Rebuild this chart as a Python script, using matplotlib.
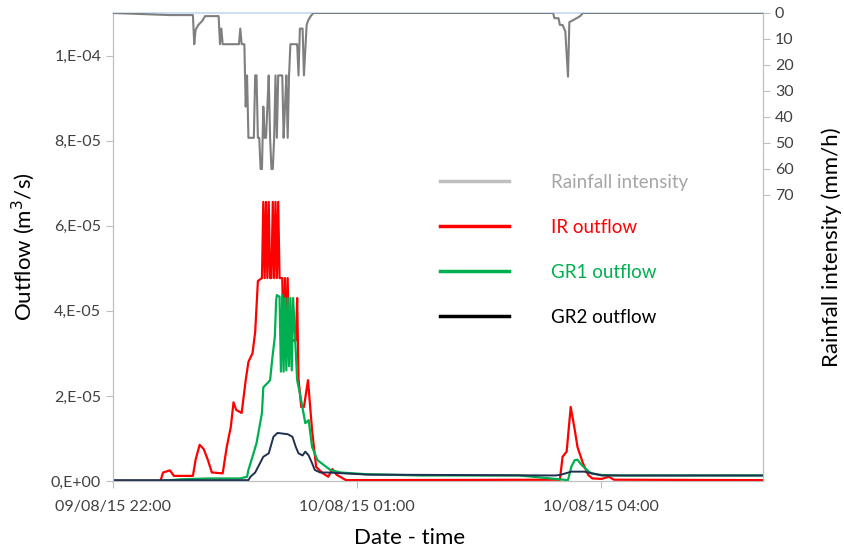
import matplotlib
matplotlib.use("Agg")
import matplotlib.pyplot as plt
from matplotlib.lines import Line2D

plt.rcParams['font.family'] = ['Lato', 'DejaVu Sans']

# ---------------- data (time in minutes after 09/08/15 22:00) ----------------
rain_t = [0, 42, 59, 60, 61, 63, 66, 68, 78, 79, 80, 81, 93, 94, 95, 97,
          98, 99, 100, 101, 102, 103, 104, 105, 106, 107, 108, 109, 110, 111, 112, 113,
          114, 115, 116, 117, 118, 119, 120, 121, 122, 123, 124, 125, 126, 127, 128, 129,
          130, 131, 135, 136, 137, 138, 140, 141, 143, 144, 146, 148,
          325, 326, 329, 330, 332, 334, 336, 337, 340, 345, 347, 480]
rain_v = [0, 0.8, 0.8, 12, 6.5, 4.6, 3, 1.2, 1.2, 12, 6, 12, 12, 6, 12, 12,
          36, 24, 48, 48, 48, 48, 48, 24, 24, 48, 48, 60, 60, 36, 48, 48,
          36, 24, 48, 60, 60, 48, 24, 48, 24, 24, 24, 24, 48, 36, 24, 48,
          24, 12, 12, 12, 24, 6, 6, 24, 4.6, 3, 1.2, 0,
          0, 2, 2, 4.6, 4.6, 7, 24.5, 3.5, 2.7, 1.2, 0, 0]

ir_t = [0, 35, 37, 42, 45, 59, 61, 64, 67, 70, 73, 81, 84, 87, 89, 91, 95, 98, 100, 103, 105,
        107, 110, 111, 112, 113, 114, 115, 116, 117, 118, 119, 120, 121, 122, 123, 125,
        126, 127, 128, 129, 130, 131, 133, 135, 136, 137, 139, 141, 144, 147, 150, 155,
        159, 162, 165, 172, 330, 332, 335, 338, 341, 343, 347, 351, 354, 361, 366, 370, 480]
ir_v = [0, 0, 0.2, 0.25, 0.12, 0.12, 0.5, 0.85, 0.75, 0.5, 0.2, 0.18, 0.8, 1.27, 1.85, 1.67, 1.6,
        2.37, 2.8, 3.0, 3.5,
        4.7, 4.77, 6.56, 4.77, 6.56, 4.77, 6.56, 4.77, 4.77, 6.56, 4.77, 6.56, 4.77, 6.56, 4.77, 4.77,
        3.0, 4.77, 3.0, 4.77, 3.0, 3.4, 3.3, 3.3, 4.3, 2.4, 1.74, 1.74, 2.37, 1.2, 0.33, 0.18,
        0.1, 0.28, 0.15, 0.02, 0.03, 0.57, 0.69, 1.74, 1.2, 0.8, 0.42, 0.14, 0.06, 0.05, 0.1, 0.03, 0.02]

gr1_t = [0, 35, 50, 70, 94, 99, 100, 103, 106, 110, 111, 114, 116, 117.5, 119.5, 120.5, 121, 123,
         124, 125, 126, 127, 128, 129, 130, 131, 132, 133, 136, 138.5, 142, 144.5, 147, 151,
         155.5, 160.5, 168, 187, 227, 300, 336, 337, 338.5, 341, 343, 346, 350, 353, 361, 376, 480]
gr1_v = [0, 0, 0.04, 0.06, 0.06, 0.1, 0.26, 0.57, 0.89, 1.6, 2.2, 2.3, 2.37, 2.84, 3.39, 4.25, 4.37, 4.33,
         2.57, 4.37, 2.57, 4.3, 2.6, 4.3, 2.7, 4.3, 2.6, 4.3, 2.37, 1.98, 1.36, 1.43, 0.8, 0.49,
         0.38, 0.26, 0.2, 0.16, 0.13, 0.13, 0.02, 0.15, 0.34, 0.49, 0.5, 0.38, 0.26, 0.18, 0.14, 0.13, 0.13]

gr2_t = [0, 100, 101.5, 105, 111, 115, 118.5, 121.5, 129, 132.5, 135, 137, 140, 142, 144.5, 147,
         149, 153, 158.5, 188, 327, 331, 338.5, 348, 361, 480]
gr2_v = [0.02, 0.02, 0.1, 0.2, 0.57, 0.65, 1.04, 1.13, 1.1, 1.04, 0.8, 0.65, 0.6, 0.69, 0.6, 0.42,
         0.26, 0.2, 0.2, 0.15, 0.13, 0.15, 0.22, 0.22, 0.13, 0.13]

x_ticks = [0, 180, 360]
x_ticklabels = ["09/08/15 22:00", "10/08/15 01:00", "10/08/15 04:00"]
y_ticks = [0, 2e-5, 4e-5, 6e-5, 8e-5, 1e-4]
y_ticklabels = ["0,E+00", "2,E-05", "4,E-05", "6,E-05", "8,E-05", "1,E-04"]
rain_ticks = [0, 10, 20, 30, 40, 50, 60, 70]
series_labels = ["Rainfall intensity", "IR outflow", "GR1 outflow", "GR2 outflow"]

# ---------------- figure ----------------
W, H = 844, 551
fig = plt.figure(figsize=(W / 100, H / 100), dpi=100)
L, R, T, B = 113, 763, 13, 481
ax = fig.add_axes([L / W, 1 - B / H, (R - L) / W, (B - T) / H])

scale = 1e-5
ax.plot(ir_t, [v * scale for v in ir_v], color='#ff0000', lw=1.6, zorder=3)
ax.plot(gr1_t, [v * scale for v in gr1_v], color='#00b050', lw=1.6, zorder=4)
ax.plot(gr2_t, [v * scale for v in gr2_v], color='#1f3050', lw=1.4, zorder=5)

ax.set_xlim(0, 480)
ax.set_ylim(0, 1.1e-4)
ax.set_xticks(x_ticks)
ax.set_xticklabels(x_ticklabels)
ax.set_yticks(y_ticks)
ax.set_yticklabels(y_ticklabels)

grey = '#bfbfbf'
for s in ['left', 'bottom', 'right']:
    ax.spines[s].set_color(grey)
ax.spines['top'].set_visible(False)
ax.tick_params(axis='both', colors=grey, labelcolor='#404040', labelsize=11.5, length=5)
ax.tick_params(axis='x', pad=9)

ax2 = ax.twinx()
ax2.plot(rain_t, rain_v, color='#7f7f7f', lw=1.5, zorder=3)
ax2.set_ylim(180, 0)
ax2.set_yticks(rain_ticks)
ax2.spines['top'].set_color('#c6d9f1')
ax2.spines['top'].set_linewidth(1.2)
ax2.spines['top'].set_zorder(1)
for s in ['left', 'bottom', 'right']:
    ax2.spines[s].set_color(grey)
ax2.tick_params(axis='y', colors=grey, labelcolor='#404040', labelsize=11.5, length=5)

ax.set_ylabel("Outflow (m$^3$/s)", fontsize=16, labelpad=10)
ax2.set_ylabel("Rainfall intensity (mm/h)", fontsize=16, labelpad=20)
fig.text(410 / W, 1 - 538 / H, "Date - time", fontsize=16, ha='center', va='center')

handles = [Line2D([], [], color='#bfbfbf', lw=2.5),
           Line2D([], [], color='#ff0000', lw=2.5),
           Line2D([], [], color='#00b050', lw=2.5),
           Line2D([], [], color='#000000', lw=2.5)]
leg = ax2.legend(handles, series_labels, loc='upper left',
                 bbox_to_anchor=(440 / W, 1 - 174 / H), bbox_transform=fig.transFigure,
                 frameon=False, fontsize=13.5, handlelength=3.7, handletextpad=2.2,
                 labelspacing=1.49, borderpad=0, borderaxespad=0,
                 labelcolor=['#a6a6a6', '#ff0000', '#00b050', '#000000'])

fig.savefig("out.png", dpi=100)
